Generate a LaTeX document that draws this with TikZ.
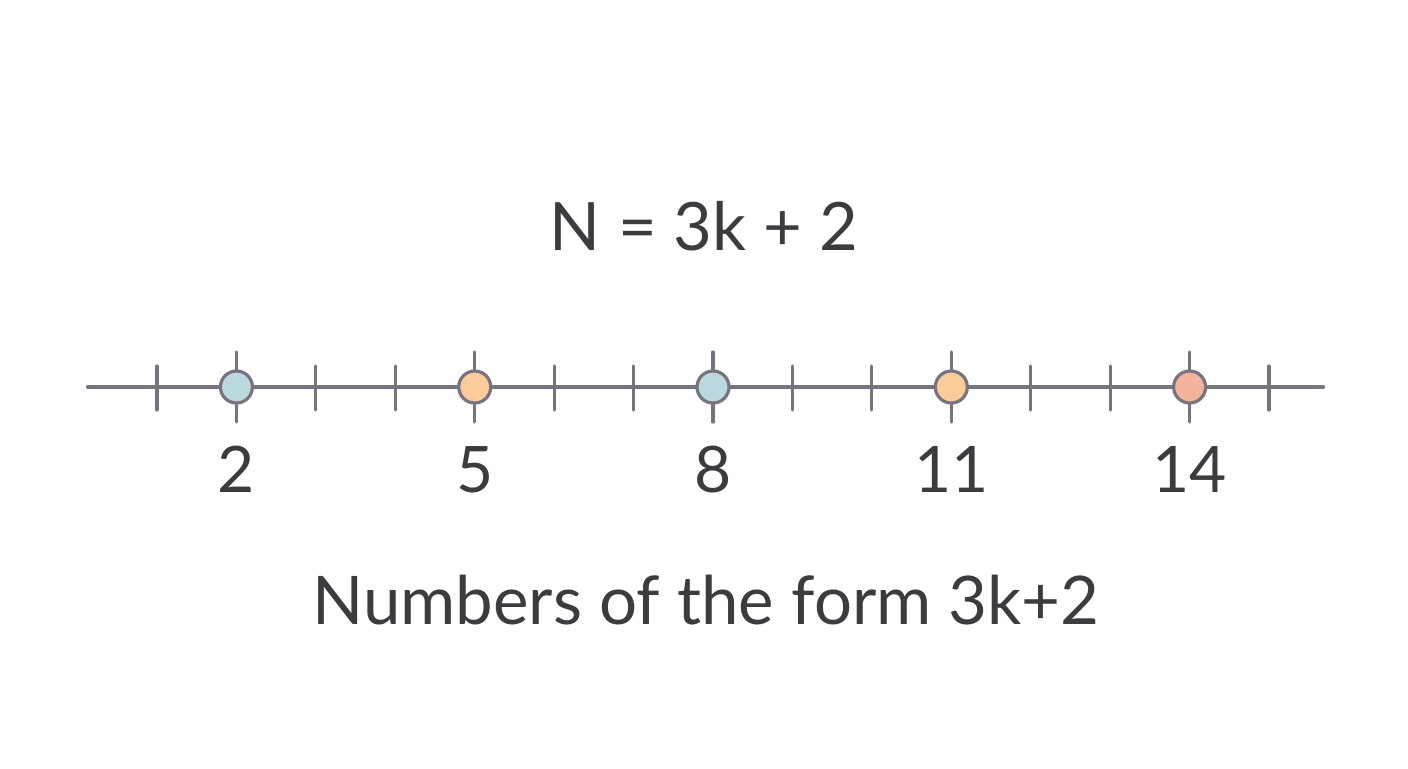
\documentclass[tikz,border=0pt]{standalone}
\usepackage{fontspec}
\setmainfont{Lato}
\usetikzlibrary{positioning}
\definecolor{axisgray}{HTML}{77737F}
\definecolor{inkdark}{HTML}{3D3B40}
\definecolor{dotblue}{HTML}{BDD9E0}
\definecolor{dotpeach}{HTML}{FBCB9A}
\definecolor{dotsalmon}{HTML}{F4B49C}
\begin{document}
\begin{tikzpicture}[x=0.02cm, y=-0.02cm, line cap=round]
	\tikzstyle{axis} = [draw=axisgray, line width=2.4pt]
	\tikzstyle{tick} = [draw=axisgray, line width=1.8pt]
	\tikzstyle{dot} = [circle, draw=axisgray, line width=1.8pt, minimum size=0.64cm, inner sep=0pt]
	\tikzstyle{num} = [text=inkdark, font=\fontsize{36.5}{42}\selectfont, anchor=base]
	\tikzstyle{heading} = [text=inkdark, font=\fontsize{38}{44}\selectfont, anchor=base]
	\fill[white] (0,0) rectangle (1408,768);
	% axis
	\coordinate (left) at (88,387);
	\coordinate (right) at (1323,387);
	\draw[axis] (left) -- (right);
	% short ticks
	\foreach \i in {1,...,15} {
		\draw[tick] ({157+79.43*(\i-1)},366) -- ({157+79.43*(\i-1)},410);
	}
	% marked values
	\foreach \v/\c in {2/dotblue, 5/dotpeach, 8/dotblue, 11/dotpeach, 14/dotsalmon} {
		\draw[tick] ({157+79.43*(\v-1)},352) -- ({157+79.43*(\v-1)},422);
		\node[dot, fill=\c] (d\v) at ({157+79.43*(\v-1)},387) {};
		\node[num] (n\v) at ({157+79.43*(\v-1)},492) {\v};
	}
	\node[heading] (formula) at (704,250) {N = 3k + 2};
	\node[heading, font=\fontsize{38.2}{44}\selectfont] (caption) at (706,624) {Numbers of the form 3k+2};
\end{tikzpicture}
\end{document}
